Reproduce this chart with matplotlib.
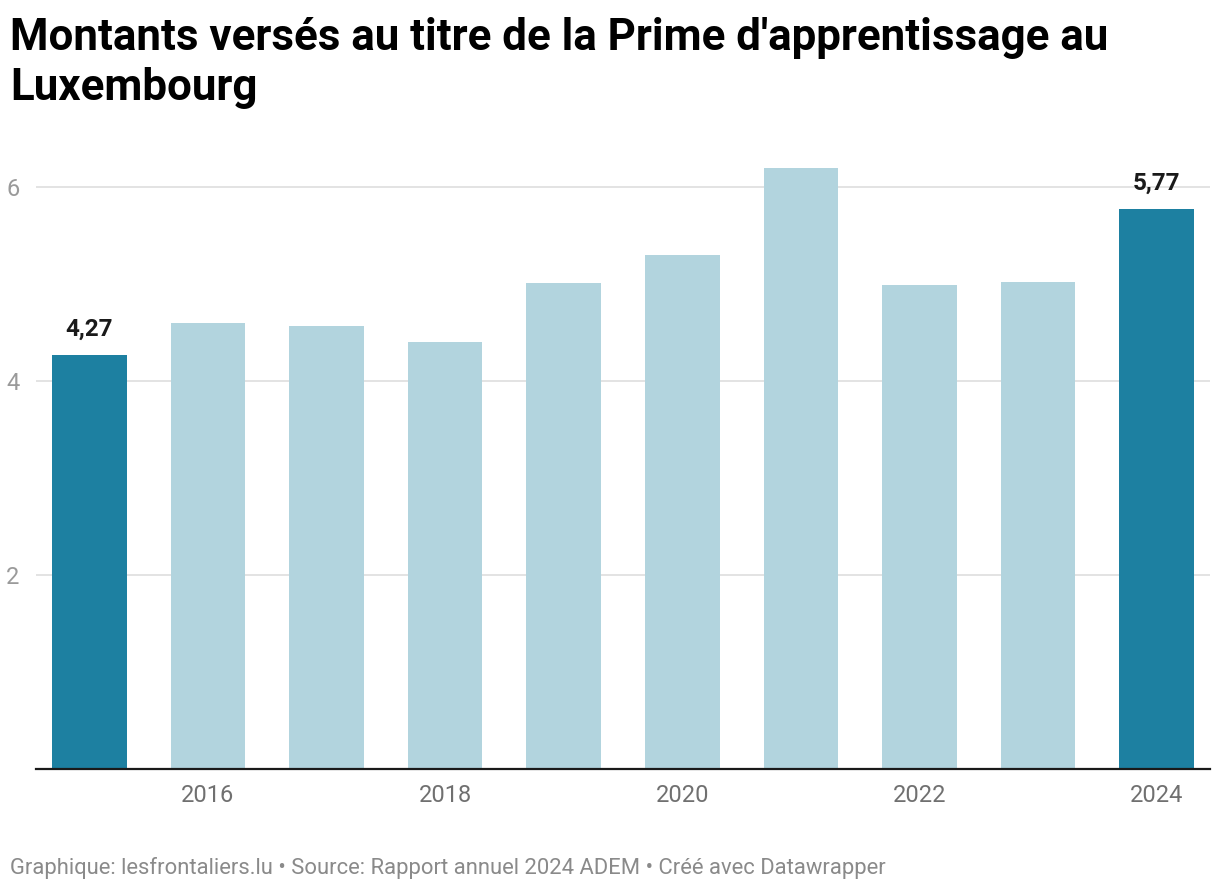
import matplotlib
matplotlib.use("Agg")
import matplotlib.pyplot as plt

years = [2015, 2016, 2017, 2018, 2019, 2020, 2021, 2022, 2023, 2024]
values = [4.27, 4.60, 4.56, 4.40, 5.01, 5.30, 6.19, 4.99, 5.02, 5.77]
highlight = [2015, 2024]
tick_years = [2016, 2018, 2020, 2022, 2024]
y_ticks = [2, 4, 6]

title_lines = ["Montants versés au titre de la Prime d'apprentissage au", "Luxembourg"]
footer = "Graphique: lesfrontaliers.lu • Source: Rapport annuel 2024 ADEM • Créé avec Datawrapper"

DARK = "#1d80a1"
LIGHT = "#b2d4de"

plt.rcParams['font.family'] = ['Roboto', 'DejaVu Sans']

W, H = 1220, 890
fig = plt.figure(figsize=(W / 100, H / 100), dpi=100)
ax = fig.add_axes([36 / W, (H - 768.5) / H, (1210 - 36) / W, (768.5 - 148) / H])

x = list(range(len(years)))
colors = [DARK if y in highlight else LIGHT for y in years]
ax.bar(x, values, width=0.63, color=colors, zorder=2)

ax.set_xlim(-0.45, len(years) - 0.55)
ax.set_ylim(0, 6.4)

ax.set_yticks(y_ticks)
ax.set_yticklabels([str(t) for t in y_ticks])
ax.yaxis.grid(True, color="#e3e3e3", linewidth=1.4, zorder=0)
ax.tick_params(axis='y', length=0, pad=12, labelsize=17, labelcolor="#9a9a9a")

ax.set_xticks([years.index(t) for t in tick_years])
ax.set_xticklabels([str(t) for t in tick_years])
ax.tick_params(axis='x', length=0, pad=11.5, labelsize=17, labelcolor="#707070")

for s in ['top', 'right', 'left']:
    ax.spines[s].set_visible(False)
ax.spines['bottom'].set_color("#1a1a1a")
ax.spines['bottom'].set_linewidth(1.6)
ax.spines['bottom'].set_zorder(3)

for i, (yr, v) in enumerate(zip(years, values)):
    if yr in highlight:
        ax.annotate(f"{v:.2f}".replace('.', ','), (i, v), xytext=(0, 10),
                    textcoords='offset points', ha='center', va='bottom',
                    fontsize=17.5, fontweight='bold', color="#1a1a1a")

for k, line in enumerate(title_lines):
    fig.text(10 / W, 1 - (50 + 50 * k) / H, line, ha='left', va='baseline',
             fontsize=31.6, fontweight='bold', color="#000000")
fig.text(10 / W, 1 - 874 / H, footer, ha='left', va='baseline', fontsize=15.8,
         color="#8a8a8a")

fig.savefig("out.png", dpi=100)
